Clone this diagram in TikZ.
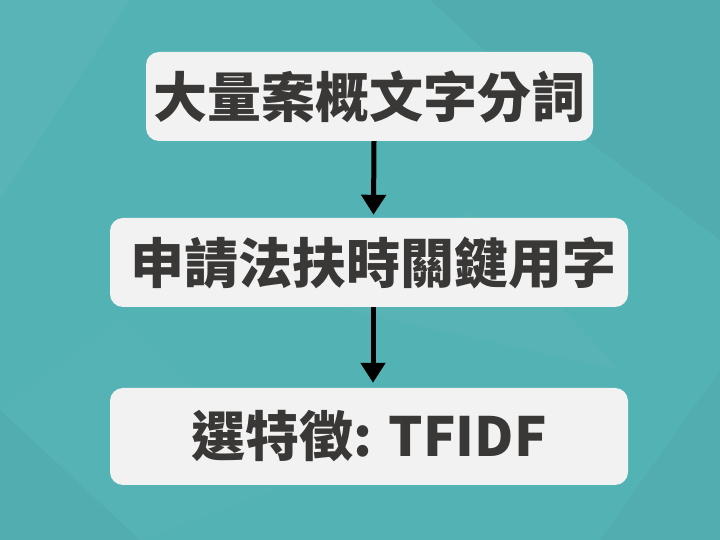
\documentclass[tikz,border=0pt]{standalone}
\usepackage{fontspec}
\newfontfamily\cjk{Noto Sans CJK TC}
\usetikzlibrary{arrows.meta}
\definecolor{bgteal}{HTML}{53B2B4}
\definecolor{boxfill}{HTML}{F2F2F2}
\definecolor{textdark}{HTML}{3A3836}
\tikzset{
  stepbox/.style={rounded corners=13pt, fill=boxfill, draw=none,
    inner sep=0pt, text=textdark, font=\cjk\bfseries\fontsize{54}{60}\selectfont},
  flowarrow/.style={line width=5pt, draw=black,
    -{Triangle[width=24pt,length=20pt]}},
  facet/.style={draw=none}
}
\begin{document}
\begin{tikzpicture}[x=1pt,y=1pt]
  % background with soft low-poly facets
  \fill[bgteal] (0,0) rectangle (720,540);
  \useasboundingbox (0,0) rectangle (720,540);
  \fill[facet, black, opacity=0.03] (430,540) -- (720,540) -- (720,300) -- (560,420) -- cycle;
  \fill[facet, white, opacity=0.03] (0,340) -- (130,540) -- (0,540) -- cycle;
  \fill[facet, black, opacity=0.025] (0,0) -- (0,130) -- (140,0) -- cycle;
  \fill[facet, white, opacity=0.025] (300,240) -- (470,330) -- (620,170) -- cycle;
  \fill[facet, black, opacity=0.025] (600,0) -- (720,0) -- (720,170) -- cycle;
  \fill[facet, white, opacity=0.02] (0,130) -- (140,0) -- (300,60) -- (120,220) -- cycle;

  % process steps
  \node[stepbox, minimum width=447pt, minimum height=89pt] (b1) at (369.5,443.5) {大量案概文字分詞};
  \node[stepbox, minimum width=518pt, minimum height=89pt] (b2) at (369,277.5) {\hspace*{8pt}申請法扶時關鍵用字};
  \node[stepbox, minimum width=518pt, minimum height=97pt] (b3) at (369,103.5) {選特徵: TFIDF};

  % connectors
  \draw[flowarrow] ([xshift=4.5pt]b1.south) -- ([xshift=4.5pt,yshift=3pt]b2.north);
  \draw[flowarrow] ([xshift=4pt]b2.south) -- ([xshift=4pt,yshift=5pt]b3.north);
\end{tikzpicture}
\end{document}
